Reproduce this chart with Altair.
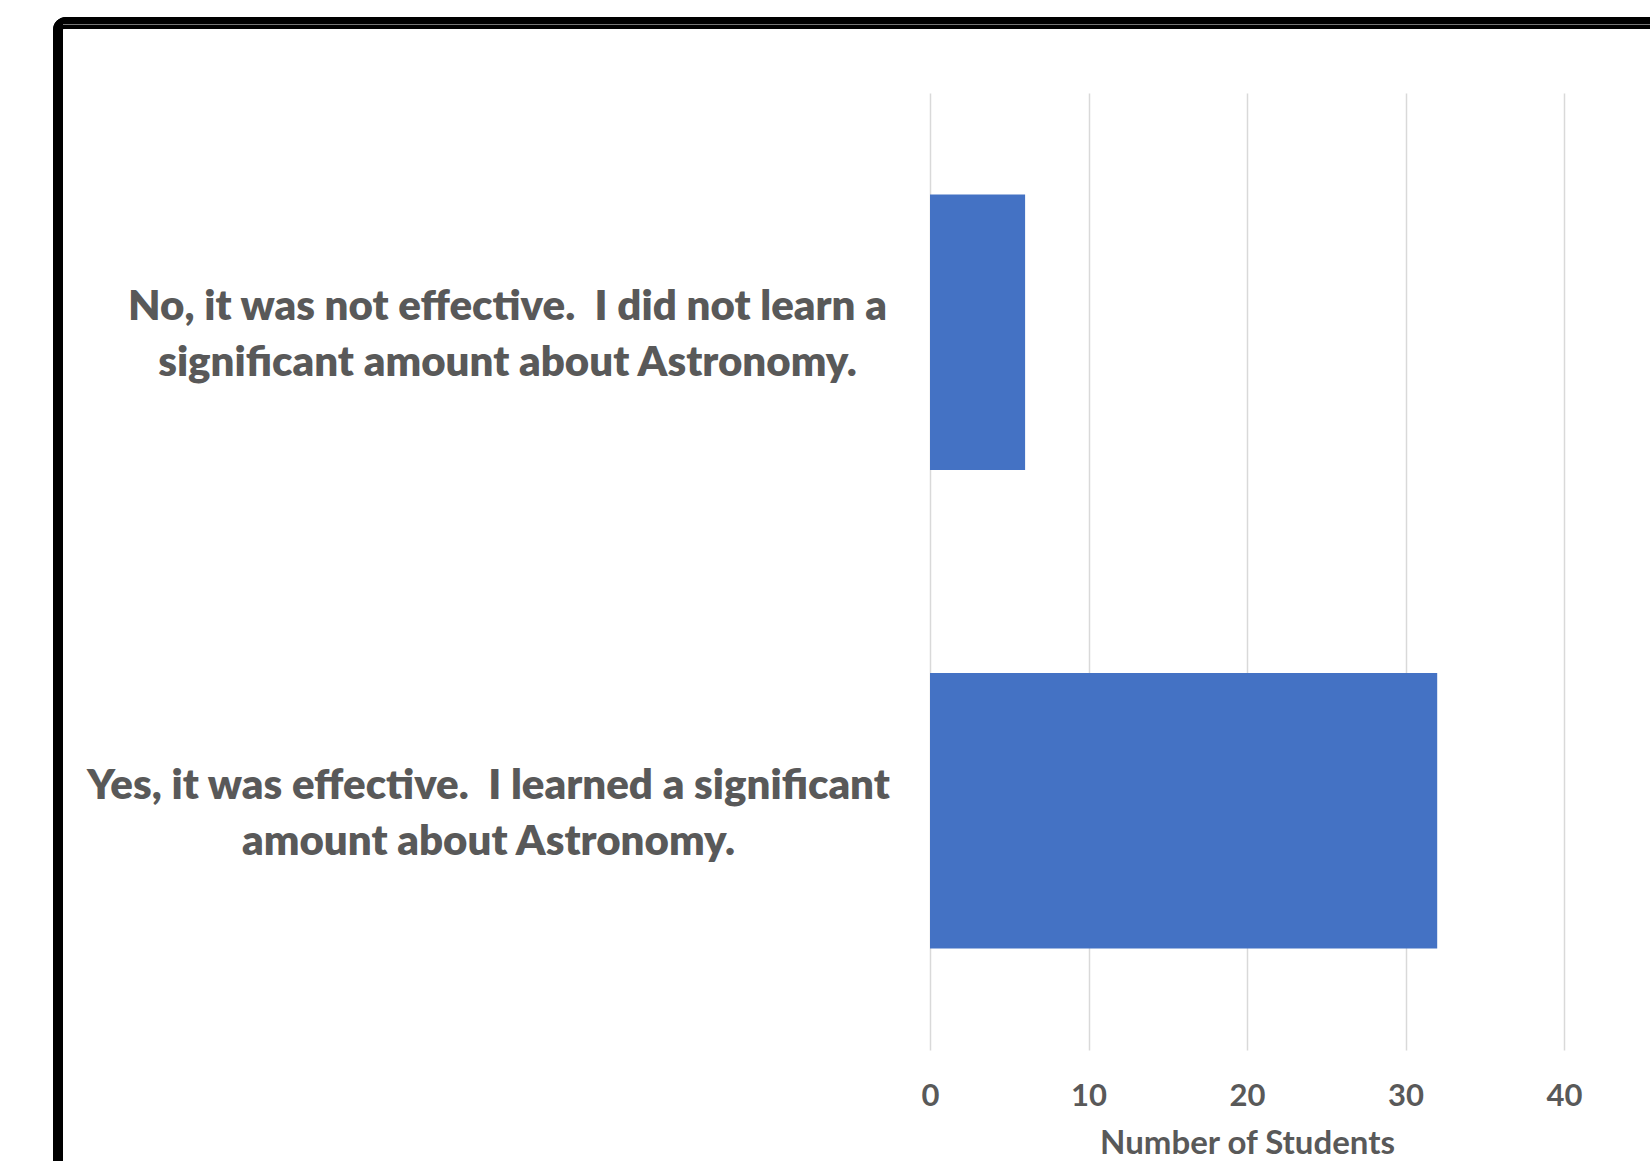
import altair as alt
import pandas as pd

categories = [
    "No, it was not effective.\u00a0 I did not learn a\nsignificant amount about Astronomy.",
    "Yes, it was effective.\u00a0 I learned a significant\namount about Astronomy.",
]
students = [6, 32]
x_ticks = [0, 10, 20, 30, 40]

df = pd.DataFrame({"answer": categories, "students": students})

FONT = "Lato"
GREY = "#595959"

y_enc = alt.Y(
    "answer:N",
    sort=categories,
    scale=alt.Scale(paddingInner=0.424, paddingOuter=0.212),
    axis=alt.Axis(
        title=None,
        domain=False,
        ticks=False,
        grid=False,
        labelExpr="split(datum.label, '\\n')",
        labelAlign="center",
        labelBaseline="middle",
        labelLineHeight=56,
        labelOffset=-25,
        labelFont=FONT,
        labelFontWeight=800,
        labelFontSize=42,
        labelColor=GREY,
        labelLimit=0,
        labelPadding={
            "condition": {"test": "indexof(datum.value, 'Yes') == 0", "value": 442},
            "value": 423,
        },
    ),
)

bars = alt.Chart(df).mark_bar(color="#4472C4").encode(
    x=alt.X(
        "students:Q",
        scale=alt.Scale(domain=[0, 40], nice=False),
        axis=alt.Axis(
            title="Number of Students",
            values=x_ticks,
            format="d",
            domain=False,
            ticks=False,
            grid=True,
            gridColor="#d9d9d9",
            gridWidth=1.5,
            labelFlush=False,
            labelFont=FONT,
            labelFontWeight="bold",
            labelFontSize=31,
            labelColor=GREY,
            labelPadding=31,
            titleFont=FONT,
            titleFontWeight="bold",
            titleFontSize=33,
            titleColor=GREY,
            titlePadding=16,
        ),
    ),
    y=y_enc,
)

frame = alt.Chart(df).mark_rect(
    fill=None, stroke="black", strokeWidth=10, cornerRadius=8
).encode(
    x=alt.value(-872),
    x2=alt.value(900),
    y=alt.value(-71),
    y2=alt.value(1300),
)

top_band = alt.Chart(df).mark_rule(color="black", strokeWidth=4).encode(
    x=alt.value(-870),
    x2=alt.value(900),
    y=alt.value(-66),
)

inner_line = alt.Chart(df).mark_rule(color="#777777", strokeWidth=1).encode(
    x=alt.value(-867),
    x2=alt.value(900),
    y=alt.value(-68.5),
)

chart = (
    alt.layer(bars, frame, top_band, inner_line)
    .properties(
        width=634,
        height=957,
        autosize=alt.AutoSizeParams(type="none"),
        padding={"left": 930, "top": 93, "right": 86, "bottom": 111},
        background="white",
    )
    .configure_view(stroke=None)
)

chart.save("out.html", embed_options={"renderer": "svg", "actions": False})
